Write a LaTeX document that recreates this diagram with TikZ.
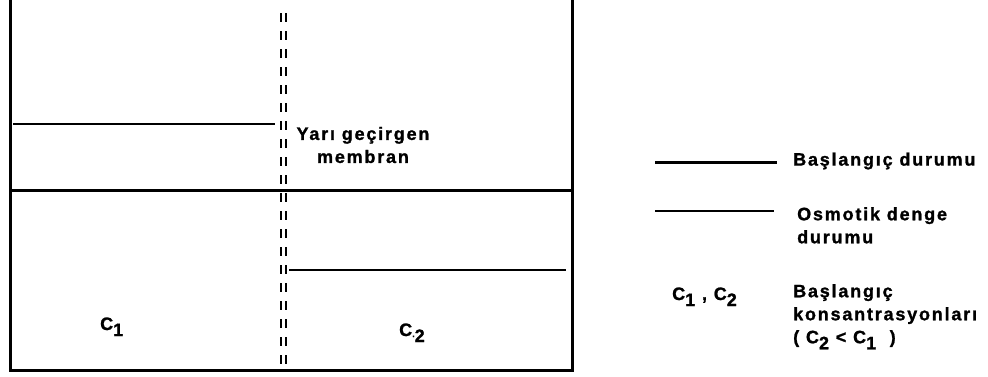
\documentclass[tikz,border=0pt]{standalone}
\usepackage{fontspec}
\newfontfamily\lblfont{Liberation Sans Bold}[LetterSpace=10,FakeBold=1.2]
\begin{document}
\begin{tikzpicture}[x=1pt,y=-1pt,
  wall/.style={line width=3pt},
  start/.style={line width=3pt},
  eq/.style={line width=1.3pt},
  memb/.style={line width=1.6pt,dash pattern=on 9pt off 9pt},
  lbl/.style={inner sep=0pt,font=\lblfont\fontsize{18}{23}\selectfont},
  sub/.style={lbl,anchor=base west}]
\useasboundingbox (0,0) rectangle (988,376);
% container
\coordinate (tl) at (10,0);
\coordinate (tr) at (572,0);
\coordinate (bl) at (10,370);
\coordinate (br) at (572,370);
\draw[wall] (tl) -- (bl) -- (br) -- (tr);
% initial level
\coordinate (s1) at (10,190);
\coordinate (s2) at (572,190);
\draw[start] (s1) -- (s2);
% equilibrium levels
\coordinate (e1a) at (13,124);
\coordinate (e1b) at (275,124);
\coordinate (e2a) at (289,270);
\coordinate (e2b) at (566,270);
\draw[eq] (e1a) -- (e1b);
\draw[eq] (e2a) -- (e2b);
% semipermeable membrane
\coordinate (m1t) at (281,13);
\coordinate (m1b) at (281,372);
\coordinate (m2t) at (286,13);
\coordinate (m2b) at (286,372);
\draw[memb] (m1t) -- (m1b);
\draw[memb] (m2t) -- (m2b);
\node[lbl,align=center] (mlab) at (363,145) {Yarı geçirgen\\membran};
% compartment labels
\node[sub] (c1) at (100,330) {C\raisebox{-6pt}{1}};
\node[sub] (c2) at (399,336) {C\raisebox{-1pt}{\fontsize{9}{9}\selectfont.}\raisebox{-6pt}{2}};
% legend
\coordinate (l1a) at (655,162);
\coordinate (l1b) at (777,162);
\draw[start] (l1a) -- (l1b);
\node[lbl,anchor=west] (t1) at (793,161) {Başlangıç durumu};
\coordinate (l2a) at (655,211);
\coordinate (l2b) at (774,211);
\draw[eq] (l2a) -- (l2b);
\node[lbl,anchor=north west,align=left] (t2) at (797,207) {Osmotik denge\\durumu};
\node[sub] (cc) at (672,300) {C\raisebox{-6pt}{1} , C\raisebox{-6pt}{2}};
\node[lbl,anchor=north west,align=left] (t3) at (793,284) {Başlangıç\\konsantrasyonları\\( C\raisebox{-6pt}{2} < C\raisebox{-6pt}{1} \ )};
\end{tikzpicture}
\end{document}
